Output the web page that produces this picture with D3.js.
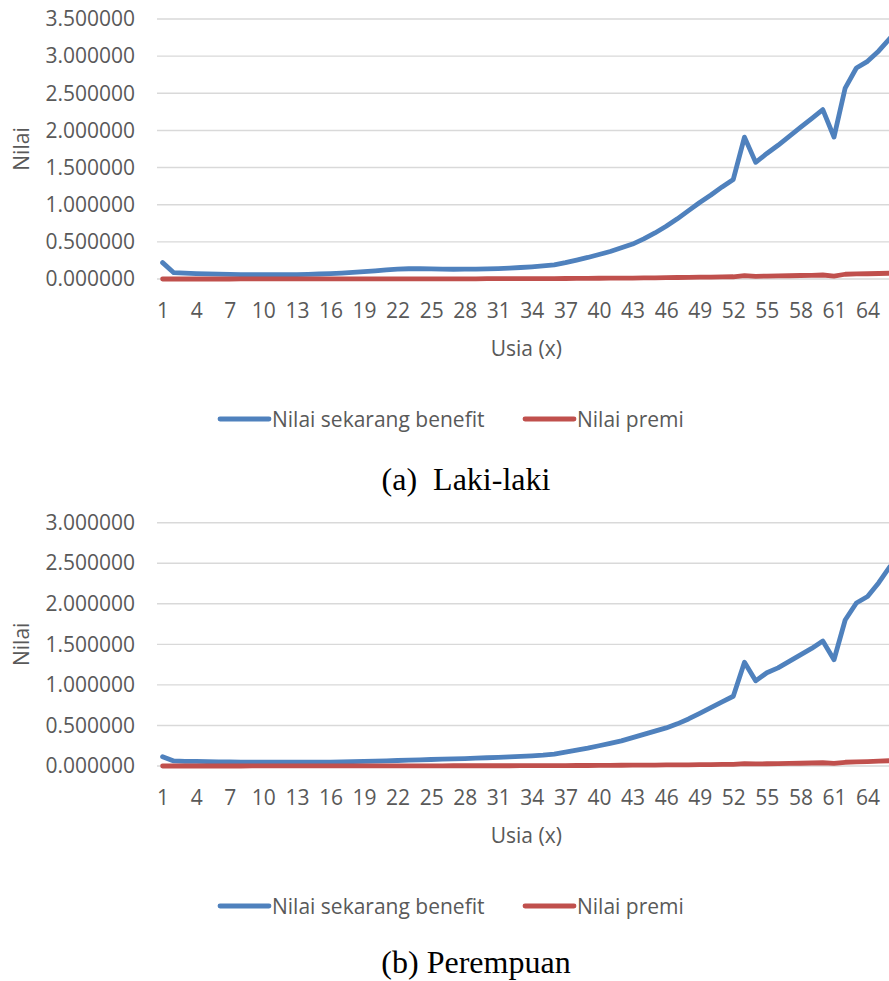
<!DOCTYPE html>
<html>
<head>
<meta charset="utf-8">
<script src="https://cdn.jsdelivr.net/npm/d3@7"></script>
<style>
    html, body { margin: 0; padding: 0; background: #fff; overflow: hidden; }
    svg { display: block; }
</style>
</head>
<body>
<svg width="889" height="981"></svg>
<script>
// usia 1..66
var usia = d3.range(1, 67);

// (a) Laki-laki
var lakiBenefit = [
    0.220, 0.085, 0.078, 0.073, 0.069, 0.065, 0.062, 0.060, 0.058, 0.057,
    0.057, 0.058, 0.060, 0.063, 0.067, 0.072, 0.079, 0.088, 0.098, 0.110,
    0.122, 0.132, 0.138, 0.140, 0.137, 0.133, 0.131, 0.132, 0.134, 0.137,
    0.141, 0.147, 0.155, 0.164, 0.176, 0.190, 0.220, 0.255, 0.290, 0.330,
    0.370, 0.420, 0.470, 0.540, 0.620, 0.710, 0.810, 0.920, 1.030, 1.130,
    1.240, 1.340, 1.910, 1.570, 1.690, 1.800, 1.920, 2.040, 2.160, 2.280,
    1.910, 2.570, 2.840, 2.930, 3.070, 3.240
];
var lakiPremi = [
    0.000, 0.000, 0.000, 0.000, 0.000, 0.000, 0.000, 0.001, 0.001, 0.001,
    0.001, 0.001, 0.001, 0.001, 0.001, 0.002, 0.002, 0.002, 0.002, 0.002,
    0.002, 0.002, 0.003, 0.003, 0.003, 0.003, 0.003, 0.003, 0.003, 0.004,
    0.004, 0.004, 0.005, 0.005, 0.006, 0.006, 0.007, 0.008, 0.009, 0.010,
    0.011, 0.012, 0.013, 0.015, 0.016, 0.018, 0.020, 0.022, 0.024, 0.026,
    0.028, 0.030, 0.045, 0.036, 0.039, 0.041, 0.044, 0.047, 0.050, 0.054,
    0.040, 0.064, 0.068, 0.071, 0.074, 0.078
];

// (b) Perempuan
var perempuanBenefit = [
    0.115, 0.062, 0.058, 0.056, 0.054, 0.052, 0.050, 0.048, 0.047, 0.046,
    0.046, 0.046, 0.046, 0.046, 0.047, 0.048, 0.050, 0.053, 0.056, 0.060,
    0.064, 0.068, 0.072, 0.076, 0.080, 0.084, 0.088, 0.092, 0.097, 0.102,
    0.107, 0.112, 0.118, 0.126, 0.134, 0.146, 0.170, 0.195, 0.220, 0.250,
    0.280, 0.310, 0.350, 0.390, 0.430, 0.470, 0.520, 0.580, 0.650, 0.720,
    0.790, 0.860, 1.280, 1.050, 1.150, 1.210, 1.290, 1.370, 1.450, 1.540,
    1.310, 1.800, 2.010, 2.090, 2.260, 2.460
];
var perempuanPremi = [
    0.000, 0.000, 0.000, 0.000, 0.000, 0.000, 0.000, 0.000, 0.001, 0.001,
    0.001, 0.001, 0.001, 0.001, 0.001, 0.001, 0.001, 0.001, 0.002, 0.002,
    0.002, 0.002, 0.002, 0.002, 0.002, 0.002, 0.003, 0.003, 0.003, 0.003,
    0.003, 0.003, 0.004, 0.004, 0.004, 0.005, 0.005, 0.006, 0.006, 0.007,
    0.008, 0.009, 0.010, 0.011, 0.012, 0.013, 0.014, 0.015, 0.017, 0.018,
    0.019, 0.020, 0.030, 0.025, 0.028, 0.030, 0.032, 0.034, 0.037, 0.040,
    0.033, 0.046, 0.051, 0.055, 0.060, 0.065
];

var yTicksLaki = [0, 0.5, 1, 1.5, 2, 2.5, 3, 3.5];
var yTicksPerempuan = [0, 0.5, 1, 1.5, 2, 2.5, 3];
var seriesNames = ["Nilai sekarang benefit", "Nilai premi"];
var seriesColors = ["#4f81bd", "#c0504d"];

window.onload = main;

function main() {
    var svg = d3.select("svg");

    drawChart(svg, {
        top: 19, bottom: 279, yTicks: yTicksLaki,
        benefit: lakiBenefit, premi: lakiPremi,
        caption: "(a)  Laki-laki", capX: 466, capY: 490
    });
    drawChart(svg, {
        top: 522.7, bottom: 766, yTicks: yTicksPerempuan,
        benefit: perempuanBenefit, premi: perempuanPremi,
        caption: "(b) Perempuan", capX: 476, capY: 973
    });
}

function drawChart(svg, o) {
    var left = 157,
        right = 157 + usia.length * 11.19; // plot area runs past the page edge
    var font = "'Open Sans', sans-serif";
    var grey = "#595959";

    var g = svg.append("g");

    var x = d3.scalePoint().domain(usia).range([left, right]).padding(0.5);
    var y = d3.scaleLinear()
        .domain([0, d3.max(o.yTicks)])
        .range([o.bottom, o.top]);

    // gridlines
    g.selectAll("line.grid")
        .data(o.yTicks)
        .enter()
        .append("line")
        .attr("class", "grid")
        .attr("x1", left)
        .attr("x2", right)
        .attr("y1", (d) => y(d))
        .attr("y2", (d) => y(d))
        .attr("stroke", "#d9d9d9")
        .attr("stroke-width", 1.4);

    // y axis labels
    var yAxis = d3.axisLeft(y)
        .tickValues(o.yTicks)
        .tickFormat(d3.format(".6f"))
        .tickSize(0)
        .tickPadding(0);
    var ya = g.append("g")
        .attr("transform", "translate(135,0)")
        .call(yAxis);
    ya.select(".domain").remove();
    ya.selectAll("text")
        .attr("font-family", font)
        .attr("font-size", 21)
        .attr("fill", grey);

    // x axis labels (every 3rd age)
    var xAxis = d3.axisBottom(x)
        .tickValues(usia.filter((d, i) => i % 3 === 0))
        .tickSize(0)
        .tickPadding(0);
    var xa = g.append("g")
        .attr("transform", "translate(0," + o.bottom + ")")
        .call(xAxis);
    xa.select(".domain").remove();
    xa.selectAll("text")
        .attr("dy", null)
        .attr("y", 39)
        .attr("font-family", font)
        .attr("font-size", 21)
        .attr("fill", grey);

    // axis titles
    g.append("text")
        .attr("transform", "translate(29," + (o.top + o.bottom) / 2 + ") rotate(-90)")
        .attr("text-anchor", "middle")
        .attr("font-family", font)
        .attr("font-size", 21)
        .attr("fill", grey)
        .text("Nilai");

    g.append("text")
        .attr("x", (left + right) / 2)
        .attr("y", o.bottom + 77)
        .attr("text-anchor", "middle")
        .attr("font-family", font)
        .attr("font-size", 21)
        .attr("fill", grey)
        .text("Usia (x)");

    // lines
    var line = d3.line()
        .x((d, i) => x(usia[i]))
        .y((d) => y(d));

    [o.benefit, o.premi].forEach(function (vals, k) {
        g.append("path")
            .datum(vals)
            .attr("d", line)
            .attr("fill", "none")
            .attr("stroke", seriesColors[k])
            .attr("stroke-width", 4.8)
            .attr("stroke-linejoin", "round")
            .attr("stroke-linecap", "round");
    });

    // legend
    var legX = [220, 525];
    var legY = o.bottom + 140;
    seriesNames.forEach(function (name, k) {
        g.append("line")
            .attr("x1", legX[k])
            .attr("x2", legX[k] + 49)
            .attr("y1", legY)
            .attr("y2", legY)
            .attr("stroke", seriesColors[k])
            .attr("stroke-width", 4.8)
            .attr("stroke-linecap", "round");
        g.append("text")
            .attr("x", legX[k] + 52)
            .attr("y", legY + 7.5)
            .attr("font-family", font)
            .attr("font-size", 21)
            .attr("fill", grey)
            .text(name);
    });

    // caption under the chart
    g.append("text")
        .attr("x", o.capX)
        .attr("y", o.capY)
        .attr("text-anchor", "middle")
        .attr("font-family", "'Liberation Serif', 'Times New Roman', serif")
        .attr("font-size", 32)
        .attr("fill", "#000")
        .attr("xml:space", "preserve")
        .text(o.caption);
}
</script>
</body>
</html>
